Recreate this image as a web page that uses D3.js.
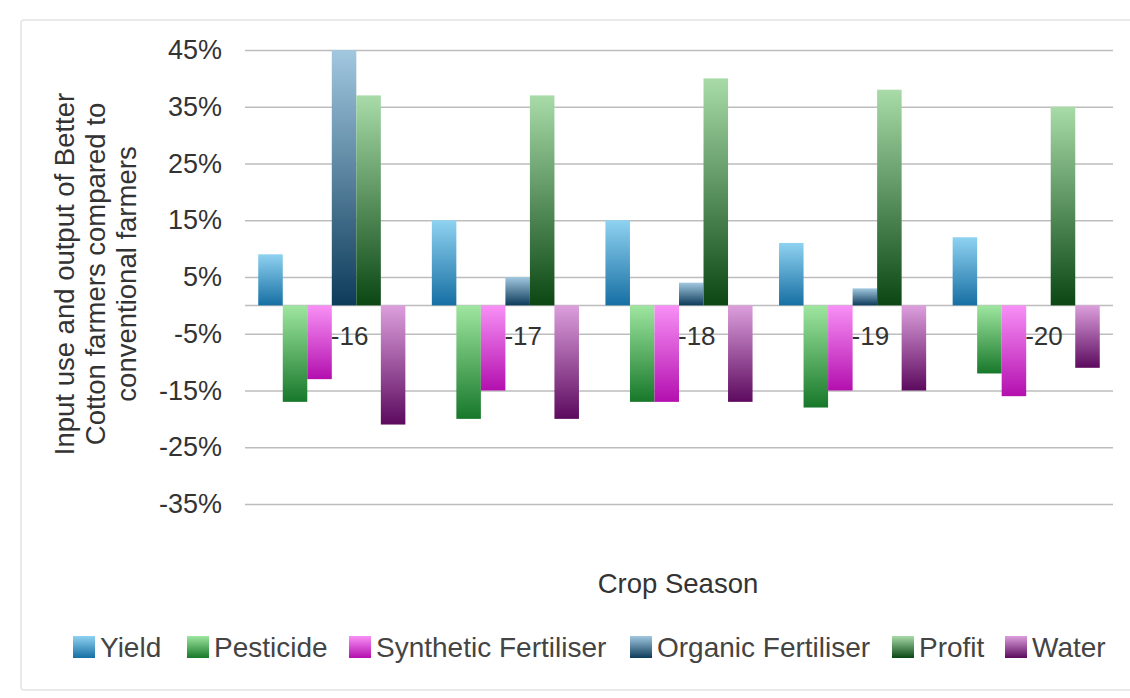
<!DOCTYPE html>
<html>
<head>
<meta charset="utf-8">
<script src="https://cdn.jsdelivr.net/npm/d3@7"></script>
<style>
  html, body { margin: 0; padding: 0; background: #fff; }
  svg { display: block; font-family: "Liberation Sans", Arial, sans-serif; }
</style>
</head>
<body>
<svg id="chart" width="1130" height="698"></svg>
<script>
// Crop seasons (as labelled on the axis)
const seasons = ["-16", "-17", "-18", "-19", "-20"];
const seriesNames = ["Yield", "Pesticide", "Synthetic Fertiliser", "Organic Fertiliser", "Profit", "Water"];

// Percentage difference of Better Cotton farmers vs conventional farmers, per season
const yieldValues      = [9, 15, 15, 11, 12];
const pesticideValues  = [-17, -20, -17, -18, -12];
const syntheticValues  = [-13, -15, -17, -15, -16];
const organicValues    = [45, 5, 4, 3, 0];
const profitValues     = [37, 37, 40, 38, 35];
const waterValues      = [-21, -20, -17, -15, -11];

const yTicks = [-35, -25, -15, -5, 5, 15, 25, 35, 45];

// Gradient stops (top, bottom) for each series
const seriesColors = {
  "Yield":                ["#8fd2f1", "#166fa3"],
  "Pesticide":            ["#9fe6a0", "#17782a"],
  "Synthetic Fertiliser": ["#f890f6", "#b30fae"],
  "Organic Fertiliser":   ["#a2c8e0", "#0d3b5a"],
  "Profit":               ["#a8dba8", "#0b4713"],
  "Water":                ["#dc9fdc", "#5c0a5e"]
};

const valuesBySeries = {
  "Yield": yieldValues,
  "Pesticide": pesticideValues,
  "Synthetic Fertiliser": syntheticValues,
  "Organic Fertiliser": organicValues,
  "Profit": profitValues,
  "Water": waterValues
};

const rows = seasons.map((s, i) => ({
  season: s,
  values: seriesNames.map(n => ({ key: n, value: valuesBySeries[n][i] }))
}));

const svg = d3.select("#chart");
const plotLeft = 245, plotRight = 1113, plotTop = 50, plotBottom = 504;

// Outer frame
svg.append("rect")
  .attr("x", 21).attr("y", 20).attr("width", 1120).attr("height", 670)
  .attr("rx", 3)
  .attr("fill", "none").attr("stroke", "#e4e4e4").attr("stroke-width", 1.5);

const defs = svg.append("defs");
seriesNames.forEach((n, i) => {
  const g = defs.append("linearGradient")
    .attr("id", "grad" + i)
    .attr("x1", 0).attr("y1", 0).attr("x2", 0).attr("y2", 1);
  g.append("stop").attr("offset", "0%").attr("stop-color", seriesColors[n][0]);
  g.append("stop").attr("offset", "100%").attr("stop-color", seriesColors[n][1]);
});

const y = d3.scaleLinear().domain([-35, 45]).range([plotBottom, plotTop]);
const x0 = d3.scaleBand().domain(seasons).range([plotLeft, plotRight]).padding(0);
const x1 = d3.scaleBand().domain(seriesNames).range([0, x0.bandwidth()])
  .paddingInner(0).paddingOuter(0.54);

// Gridlines and tick labels
const yAxis = d3.axisLeft(y).tickValues(yTicks)
  .tickFormat(d => d + "%").tickSize(-(plotRight - plotLeft)).tickPadding(23);
const gy = svg.append("g").attr("transform", `translate(${plotLeft},0)`).call(yAxis);
gy.select(".domain").remove();
gy.selectAll(".tick line").attr("stroke", "#bdbdbd").attr("stroke-width", 1.5);
gy.selectAll(".tick text")
  .attr("fill", "#333").style("font-size", "27px");

// Zero baseline
svg.append("line")
  .attr("x1", plotLeft).attr("x2", plotRight)
  .attr("y1", y(0)).attr("y2", y(0))
  .attr("stroke", "#bdbdbd").attr("stroke-width", 1.5);

// Season labels sit next to the zero line, inside each group
svg.append("g").selectAll("text")
  .data(seasons)
  .join("text")
  .attr("x", d => x0(d) + x0.bandwidth() / 2 - 1)
  .attr("y", y(0) + 40)
  .attr("fill", "#333")
  .style("font-size", "26px")
  .text(d => d);

// Bars
const groups = svg.append("g").selectAll("g")
  .data(rows)
  .join("g")
  .attr("transform", d => `translate(${x0(d.season)},0)`);

groups.selectAll("rect")
  .data(d => d.values.filter(v => v.value !== 0))
  .join("rect")
  .attr("x", d => x1(d.key))
  .attr("width", x1.bandwidth())
  .attr("y", d => y(Math.max(0, d.value)))
  .attr("height", d => Math.abs(y(d.value) - y(0)))
  .attr("fill", d => `url(#grad${seriesNames.indexOf(d.key)})`);

// Axis titles
const yTitle = svg.append("text")
  .attr("transform", "translate(74,274) rotate(-90)")
  .attr("text-anchor", "middle")
  .attr("fill", "#333")
  .style("font-size", "27.5px");
["Input use and output of Better", "Cotton farmers compared to", "conventional farmers"]
  .forEach((line, i) => {
    yTitle.append("tspan").attr("x", 0).attr("dy", i === 0 ? 0 : 31).text(line);
  });

svg.append("text")
  .attr("x", 678).attr("y", 593)
  .attr("text-anchor", "middle")
  .attr("fill", "#333")
  .style("font-size", "27.5px")
  .text("Crop Season");

// Legend
const legendX = [73, 187, 349, 630, 892, 1005];
const legend = svg.append("g").selectAll("g")
  .data(seriesNames)
  .join("g")
  .attr("transform", (d, i) => `translate(${legendX[i]},636)`);
legend.append("rect")
  .attr("width", 22).attr("height", 22)
  .attr("fill", (d, i) => `url(#grad${i})`);
legend.append("text")
  .attr("x", 27).attr("y", 21)
  .attr("fill", "#444")
  .style("font-size", "28px")
  .text(d => d);
</script>
</body>
</html>
